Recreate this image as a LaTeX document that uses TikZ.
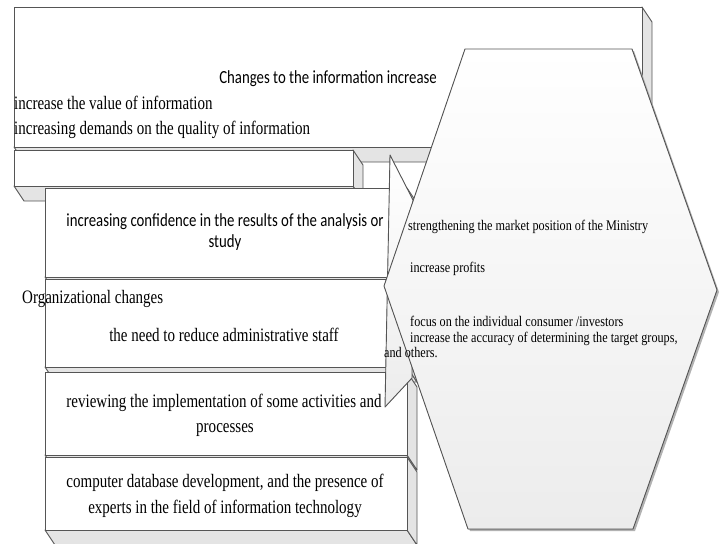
\documentclass[tikz,border=0pt]{standalone}
\usepackage{fontspec}
\setmainfont[FakeStretch=0.79]{Liberation Serif}
\newfontfamily\hexfont[FakeStretch=0.83]{Liberation Serif}
\newfontfamily\calib[FakeStretch=0.80]{Carlito}
\definecolor{edgec}{HTML}{555555}
\definecolor{facec}{HTML}{E4E4E4}
\definecolor{hexlow}{HTML}{ECECEC}
\newcommand\slab[4]{% left top right bottom
  \filldraw[facebox] (#1,#4) -- (#3,#4) -- ++(10,15) -- ({#1+10},{#4+15}) -- cycle;
  \filldraw[facebox] (#3,#2) -- ++(10,15) -- ({#3+10},{#4+15}) -- (#3,#4) -- cycle;
  \filldraw[frontbox] (#1,#2) rectangle (#3,#4);
}
\begin{document}
\begin{tikzpicture}[x=1pt,y=-1pt,line join=round,
  edge/.style={draw=edgec,line width=0.9pt},
  facebox/.style={edge,fill=facec},
  frontbox/.style={edge,fill=white},
  sbig/.style={inner sep=0pt,font={\calib\fontsize{18.5}{20}\selectfont}},
  rbig/.style={inner sep=0pt,font={\fontsize{19}{20}\selectfont}},
  rsmall/.style={inner sep=0pt,font={\hexfont\fontsize{14.7}{16}\selectfont}}]
\useasboundingbox (0,0) rectangle (721,544);
\clip (0,0) rectangle (721,544);
% stacked 3D boxes
\slab{14}{7}{642}{147}
\slab{14}{150}{353}{186}
\slab{45}{188}{407}{277}
\slab{45}{279}{407}{367}
\slab{45}{372}{407}{455}
\slab{45}{457}{407}{530}
% pointer of the callout
\filldraw[edge,top color=white,bottom color=hexlow] (390,155) -- (413,200) -- (412,378) -- (385,407) -- cycle;
% hexagon
\fill[black!30] (467,51) -- (634,51) -- (719,292) -- (635,531) -- (470,531) -- (386,288) -- cycle;
\filldraw[edge,top color=white,bottom color=hexlow] (465,49) -- (632,49) -- (717,290) -- (633,529) -- (468,529) -- (384,286) -- cycle;
% texts
\node[sbig,anchor=base east] (t1) at (437,83) {Changes to the information increase};
\node[rbig,anchor=base west] (t2) at (14,109) {increase the value of information};
\node[rbig,anchor=base west] (t3) at (14,134) {increasing demands on the quality of information};
\node[sbig,anchor=base] (b3a) at (225,226) {increasing confidence in the results of the analysis or};
\node[sbig,anchor=base] (b3b) at (225,247) {study};
\node[rbig,anchor=base west] (b4a) at (22,303) {Organizational changes};
\node[rbig,anchor=base] (b4b) at (224,341) {the need to reduce administrative staff};
\node[rbig,anchor=base] (b5a) at (224,407) {reviewing the implementation of some activities and};
\node[rbig,anchor=base] (b5b) at (225,432) {processes};
\node[rbig,anchor=base] (b6a) at (225,487) {computer database development, and the presence of};
\node[rbig,anchor=base] (b6b) at (225,513) {experts in the field of information technology};
\node[rsmall,anchor=base west] (h1) at (408,230) {strengthening the market position of the Ministry};
\node[rsmall,anchor=base west] (h2) at (410,272) {increase profits};
\node[rsmall,anchor=base west] (h3) at (410,326) {focus on the individual consumer /investors};
\node[rsmall,anchor=base west] (h4) at (410,342) {increase the accuracy of determining the target groups,};
\node[rsmall,anchor=base west] (h5) at (384,357) {and others.};
\end{tikzpicture}
\end{document}
